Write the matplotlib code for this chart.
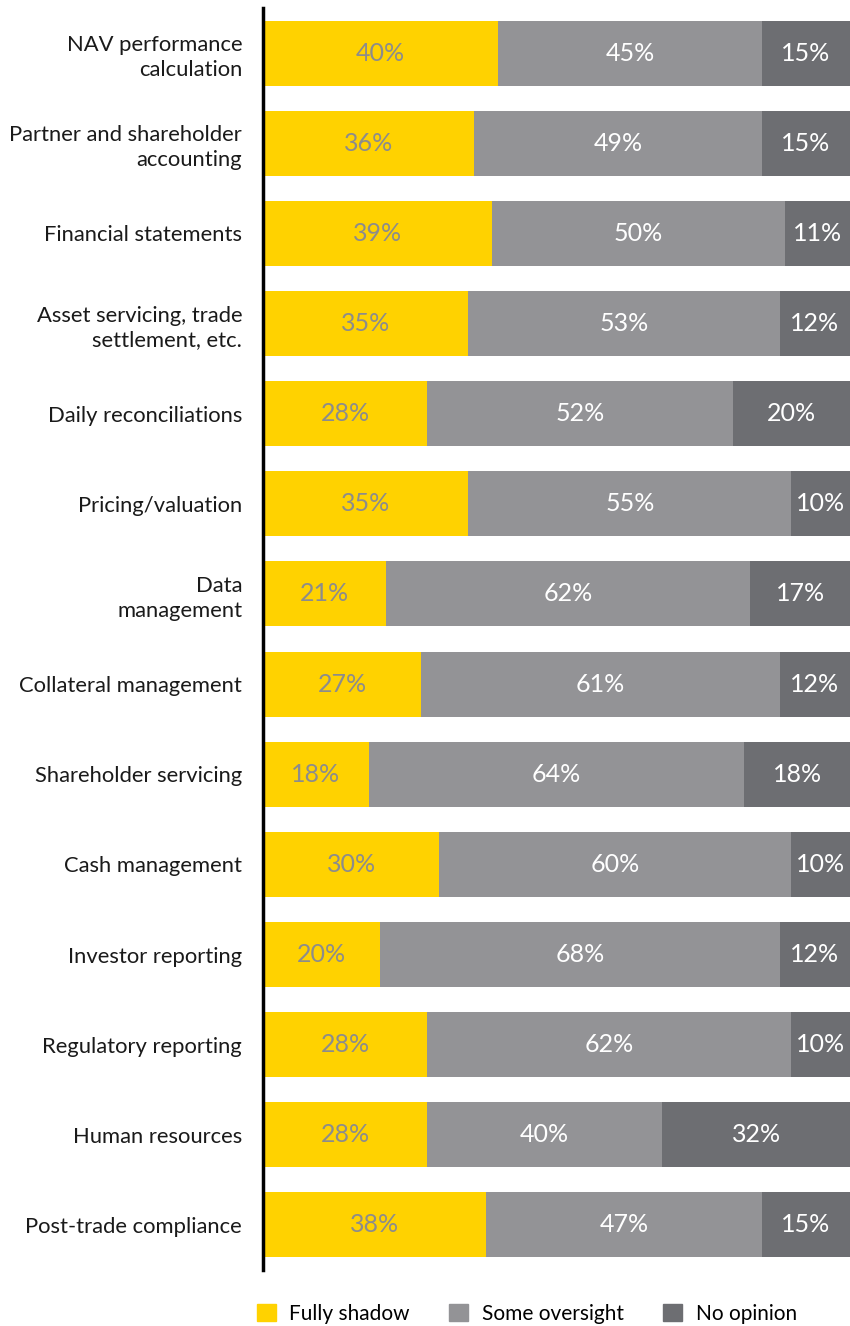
import matplotlib.pyplot as plt
import matplotlib.patches as mpatches
import numpy as np

plt.rcParams['font.family'] = ['Lato', 'DejaVu Sans']

# Survey responses per function (percent of respondents)
categories = [
    "NAV performance\ncalculation",
    "Partner and shareholder\naccounting",
    "Financial statements",
    "Asset servicing, trade\nsettlement, etc.",
    "Daily reconciliations",
    "Pricing/valuation",
    "Data\nmanagement",
    "Collateral management",
    "Shareholder servicing",
    "Cash management",
    "Investor reporting",
    "Regulatory reporting",
    "Human resources",
    "Post-trade compliance",
]
fully_shadow = [40, 36, 39, 35, 28, 35, 21, 27, 18, 30, 20, 28, 28, 38]
some_oversight = [45, 49, 50, 53, 52, 55, 62, 61, 64, 60, 68, 62, 40, 47]
no_opinion = [15, 15, 11, 12, 20, 10, 17, 12, 18, 10, 12, 10, 32, 15]

series_names = ["Fully shadow", "Some oversight", "No opinion"]
colors = ["#FFD200", "#939396", "#6D6E72"]
text_colors = ["#8C8C8C", "white", "white"]

fig = plt.figure(figsize=(8.5, 13.26), dpi=100)
ax = fig.add_axes([263 / 850, 1 - 1270 / 1326, 1 - 263 / 850, 1262 / 1326])

y = np.arange(len(categories))
left = np.zeros(len(categories))
for vals, col, tcol in zip([fully_shadow, some_oversight, no_opinion], colors, text_colors):
    vals = np.array(vals)
    ax.barh(y, vals, left=left, height=0.72, color=col, edgecolor='none')
    for yi, l, v in zip(y, left, vals):
        ax.text(l + v / 2, yi, f"{v}%", ha='center', va='center',
                fontsize=18, color=tcol)
    left = left + vals

ax.set_xlim(0, 100)
ax.set_ylim(len(categories) - 0.5, -0.5)
ax.set_yticks(y)
ax.set_yticklabels(categories, fontsize=15.8, linespacing=1.3, color='#1a1a1a')
ax.tick_params(axis='y', length=0, pad=15)
ax.set_xticks([])
for side in ['top', 'right', 'bottom']:
    ax.spines[side].set_visible(False)
ax.spines['left'].set_linewidth(2.5)
ax.spines['left'].set_color('black')

handles = [mpatches.Patch(color=c, label=n) for c, n in zip(colors, series_names)]
fig.legend(handles=handles, loc='center left', bbox_to_anchor=(257 / 850, 1 - 1314 / 1326),
           ncol=3, frameon=False, fontsize=15, handlelength=0.9, handleheight=0.9,
           handletextpad=0.65, columnspacing=1.9, borderpad=0.0, borderaxespad=0.0)

fig.savefig("out.png", dpi=100)
